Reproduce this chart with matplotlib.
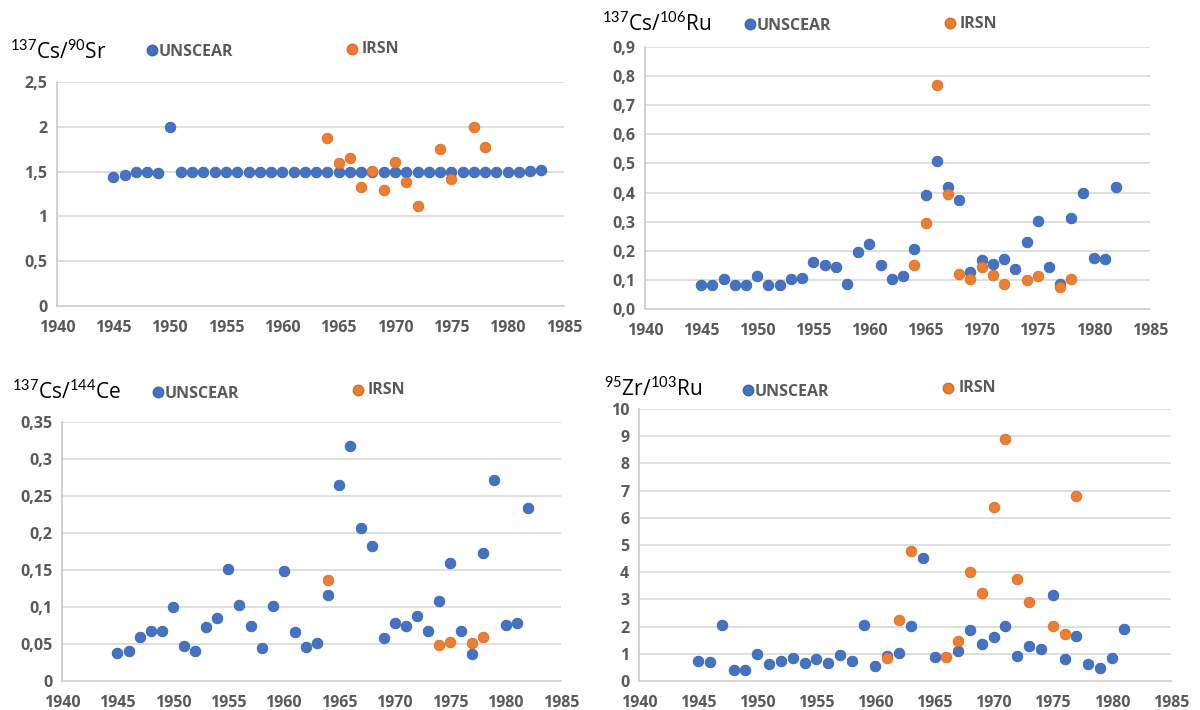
import matplotlib
matplotlib.use("Agg")
import matplotlib.pyplot as plt
from matplotlib.lines import Line2D
from matplotlib.ticker import FuncFormatter

plt.rcParams['font.family'] = ['Open Sans', 'DejaVu Sans']
plt.rcParams['mathtext.fontset'] = 'custom'
plt.rcParams['mathtext.rm'] = 'Lato'

# ---- data ----
# 137Cs/90Sr
cs_sr_years = list(range(1945, 1984))
cs_sr_unscear = [1.44, 1.46, 1.50, 1.49, 1.48, 2.00] + [1.50] * 31 + [1.51, 1.515]
cs_sr_irsn_years = [1964, 1965, 1966, 1967, 1968, 1969, 1970, 1971, 1972, 1974, 1975, 1977, 1978]
cs_sr_irsn = [1.88, 1.60, 1.65, 1.33, 1.51, 1.29, 1.61, 1.38, 1.12, 1.75, 1.42, 2.00, 1.77]

# 137Cs/106Ru
cs_ru_years = list(range(1945, 1983))
cs_ru_unscear = [0.082, 0.082, 0.104, 0.082, 0.082, 0.113, 0.082, 0.082, 0.104, 0.108,
                 0.160, 0.151, 0.143, 0.085, 0.197, 0.222, 0.151, 0.104, 0.112, 0.206,
                 0.391, 0.509, 0.420, 0.373, 0.128, 0.167, 0.153, 0.171, 0.139, 0.231,
                 0.304, 0.145, 0.085, 0.312, 0.399, 0.176, 0.172, 0.420]
cs_ru_irsn_years = [1964, 1965, 1966, 1967, 1968, 1969, 1970, 1971, 1972, 1974, 1975, 1977, 1978]
cs_ru_irsn = [0.152, 0.296, 0.769, 0.395, 0.120, 0.103, 0.144, 0.118, 0.087, 0.101, 0.113, 0.076, 0.102]

# 137Cs/144Ce
cs_ce_years = list(range(1945, 1983))
cs_ce_unscear = [0.038, 0.041, 0.060, 0.068, 0.067, 0.100, 0.047, 0.040, 0.073, 0.085,
                 0.151, 0.103, 0.075, 0.045, 0.102, 0.149, 0.066, 0.0455, 0.052, 0.116,
                 0.265, 0.318, 0.207, 0.183, 0.058, 0.079, 0.074, 0.088, 0.068, 0.108,
                 0.160, 0.067, 0.037, 0.173, 0.272, 0.076, 0.078, 0.234]
cs_ce_irsn_years = [1964, 1974, 1975, 1977, 1978]
cs_ce_irsn = [0.137, 0.049, 0.053, 0.051, 0.060]

# 95Zr/103Ru
zr_ru_years = [1945, 1946, 1947, 1948, 1949, 1950, 1951, 1952, 1953, 1954, 1955, 1956,
               1957, 1958, 1959, 1960, 1961, 1962, 1963, 1964, 1965, 1967, 1968, 1969,
               1970, 1971, 1972, 1973, 1974, 1975, 1976, 1977, 1978, 1979, 1980, 1981]
zr_ru_unscear = [0.75, 0.71, 2.07, 0.42, 0.42, 0.99, 0.63, 0.75, 0.83, 0.65, 0.81, 0.66,
                 0.96, 0.72, 2.05, 0.56, 0.91, 1.02, 2.04, 4.54, 0.90, 1.09, 1.89, 1.36,
                 1.62, 2.01, 0.93, 1.29, 1.18, 3.17, 0.82, 1.64, 0.61, 0.48, 0.86, 1.91]
zr_ru_irsn_years = [1961, 1962, 1963, 1966, 1967, 1968, 1969, 1970, 1971, 1972, 1973, 1975, 1976, 1977]
zr_ru_irsn = [0.83, 2.26, 4.79, 0.90, 1.47, 4.02, 3.23, 6.38, 8.90, 3.74, 2.91, 2.02, 1.72, 6.80]

BLUE = '#4472C4'
ORANGE = '#ED7D31'
GRAY = '#595959'

W, H = 1200, 710
fig = plt.figure(figsize=(12, 7.1), dpi=100)


def px(x, y):
    return x / W, 1 - y / H


def panel(rect, yu, yrs_i, yi, ymax, ystep, yfmt, title, tpos, upos, ipos, years):
    l, t, r, b = rect
    ax = fig.add_axes([l / W, 1 - b / H, (r - l) / W, (b - t) / H])
    ax.scatter(years, yu, s=58, color=BLUE, edgecolor='#3A63AD', linewidth=0.6, zorder=3, clip_on=False)
    ax.scatter(yrs_i, yi, s=58, color=ORANGE, edgecolor='#D56F28', linewidth=0.6, zorder=4, clip_on=False)
    ax.set_xlim(1940, 1985)
    ax.set_ylim(0, ymax)
    ax.set_xticks(range(1940, 1986, 5))
    n = int(round(ymax / ystep))
    ax.set_yticks([i * ystep for i in range(n + 1)])
    ax.yaxis.set_major_formatter(FuncFormatter(lambda v, p: yfmt.format(v).replace('.', ',')))
    ax.grid(axis='y', color='#D9D9D9', linewidth=1.2)
    ax.set_axisbelow(True)
    for s in ['top', 'right']:
        ax.spines[s].set_visible(False)
    ax.spines['left'].set_color('#C8C8C8')
    ax.spines['bottom'].set_color('#D0D0D0')
    ax.spines['left'].set_linewidth(1.2)
    ax.spines['bottom'].set_linewidth(1.2)
    ax.tick_params(axis='x', length=0, labelsize=11.5, labelcolor=GRAY, pad=10)
    ax.tick_params(axis='y', length=0, labelsize=11.5, labelcolor=GRAY, pad=7)
    for lab in ax.get_xticklabels() + ax.get_yticklabels():
        lab.set_fontweight('bold')
    # title with superscripts
    fig.text(*px(*tpos), title, fontsize=15, color='black', va='center', ha='left')
    # manual legend
    for (mx, my), (tx, ty), name, col, ec in [(upos[:2], upos[2:], 'UNSCEAR', BLUE, '#3A63AD'),
                                              (ipos[:2], ipos[2:], 'IRSN', ORANGE, '#D56F28')]:
        fig.add_artist(Line2D([mx / W], [1 - my / H], marker='o', markersize=7.5,
                              color=col, markeredgecolor=ec, transform=fig.transFigure))
        fig.text(*px(tx, ty), name, fontsize=11.5, fontweight='bold',
                 color=GRAY, va='center', ha='left')
    return ax


panel((57, 82, 564, 306), cs_sr_unscear, cs_sr_irsn_years, cs_sr_irsn, 2.5, 0.5, '{:g}',
      r'$^{137}$Cs/$^{90}$Sr', (10, 52), (152, 50, 159, 52), (352, 49, 362, 49), cs_sr_years)
panel((645, 47, 1150, 309), cs_ru_unscear, cs_ru_irsn_years, cs_ru_irsn, 0.9, 0.1, '{:.1f}',
      r'$^{137}$Cs/$^{106}$Ru', (602, 24), (750, 24, 757, 26), (950, 23, 960, 24), cs_ru_years)
panel((62, 422, 561, 681), cs_ce_unscear, cs_ce_irsn_years, cs_ce_irsn, 0.35, 0.05, '{:g}',
      r'$^{137}$Cs/$^{144}$Ce', (12, 392), (158, 392, 165, 394), (358, 390, 368, 390), cs_ce_years)
panel((639, 409, 1171, 681), zr_ru_unscear, zr_ru_irsn_years, zr_ru_irsn, 10, 1, '{:g}',
      r'$^{95}$Zr/$^{103}$Ru', (604, 389), (748, 390, 755, 392), (948, 388, 959, 388), zr_ru_years)

fig.savefig('out.png', dpi=100)
